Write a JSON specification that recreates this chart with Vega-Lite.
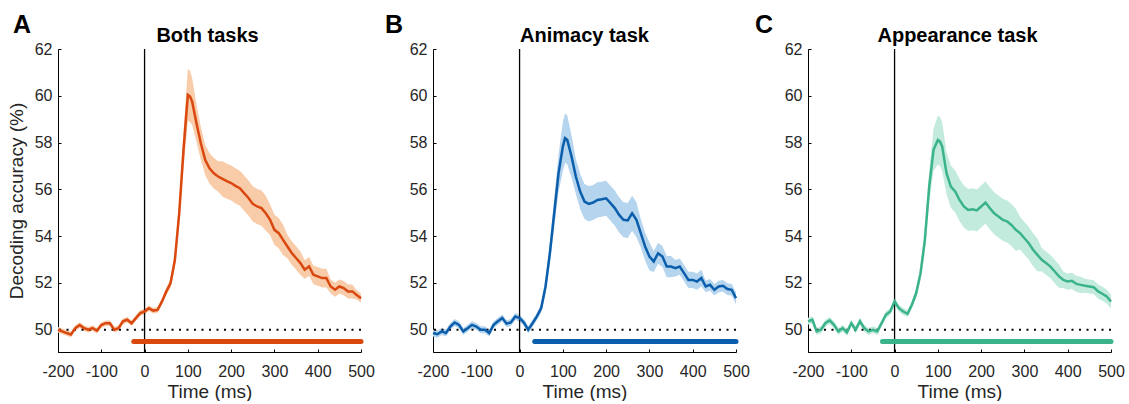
{
"$schema":"https://vega.github.io/schema/vega-lite/v6.json",
"padding":{"left":7,"top":13,"right":5,"bottom":0},
"bounds":"flush",
"spacing":72,
"config":{"font":"Liberation Sans","view":{"stroke":null},
 "axis":{"grid":false,"domainColor":"#000","domainWidth":1,"tickColor":"#000","tickSize":-3,"labelFontSize":16,"labelColor":"#262626","labelFont":"Liberation Sans","titleFont":"Liberation Sans","titleFontSize":19,"titleFontWeight":"normal","titleColor":"#262626","labelFlush":false,"labelExpr":"replace(datum.label, '\u2212', '-')"}},
"datasets":{
"curves":[
{"k":"A","t":-200,"m":50.00,"lo":49.88,"hi":50.12},
{"k":"A","t":-190,"m":49.93,"lo":49.81,"hi":50.05},
{"k":"A","t":-180,"m":49.86,"lo":49.74,"hi":49.98},
{"k":"A","t":-170,"m":49.80,"lo":49.68,"hi":49.92},
{"k":"A","t":-160,"m":50.07,"lo":49.95,"hi":50.19},
{"k":"A","t":-150,"m":50.20,"lo":50.08,"hi":50.32},
{"k":"A","t":-140,"m":50.07,"lo":49.95,"hi":50.19},
{"k":"A","t":-130,"m":50.00,"lo":49.88,"hi":50.12},
{"k":"A","t":-120,"m":50.07,"lo":49.95,"hi":50.19},
{"k":"A","t":-110,"m":49.96,"lo":49.84,"hi":50.08},
{"k":"A","t":-100,"m":50.20,"lo":50.08,"hi":50.32},
{"k":"A","t":-90,"m":50.28,"lo":50.16,"hi":50.40},
{"k":"A","t":-80,"m":50.28,"lo":50.16,"hi":50.40},
{"k":"A","t":-70,"m":50.00,"lo":49.88,"hi":50.12},
{"k":"A","t":-60,"m":50.07,"lo":49.95,"hi":50.19},
{"k":"A","t":-50,"m":50.36,"lo":50.24,"hi":50.48},
{"k":"A","t":-40,"m":50.43,"lo":50.31,"hi":50.55},
{"k":"A","t":-30,"m":50.28,"lo":50.16,"hi":50.40},
{"k":"A","t":-20,"m":50.50,"lo":50.38,"hi":50.62},
{"k":"A","t":-10,"m":50.71,"lo":50.59,"hi":50.83},
{"k":"A","t":0,"m":50.78,"lo":50.66,"hi":50.90},
{"k":"A","t":10,"m":50.92,"lo":50.80,"hi":51.04},
{"k":"A","t":20,"m":50.82,"lo":50.70,"hi":50.94},
{"k":"A","t":30,"m":50.85,"lo":50.73,"hi":50.97},
{"k":"A","t":40,"m":51.20,"lo":51.08,"hi":51.32},
{"k":"A","t":50,"m":51.63,"lo":51.48,"hi":51.78},
{"k":"A","t":60,"m":51.99,"lo":51.79,"hi":52.19},
{"k":"A","t":70,"m":52.98,"lo":52.68,"hi":53.28},
{"k":"A","t":80,"m":54.98,"lo":54.48,"hi":55.48},
{"k":"A","t":90,"m":57.70,"lo":56.90,"hi":58.50},
{"k":"A","t":100,"m":60.04,"lo":58.94,"hi":61.14},
{"k":"A","t":105,"m":59.97,"lo":58.87,"hi":61.07},
{"k":"A","t":110,"m":59.75,"lo":58.75,"hi":60.75},
{"k":"A","t":120,"m":58.82,"lo":58.02,"hi":59.62},
{"k":"A","t":130,"m":57.97,"lo":57.27,"hi":58.67},
{"k":"A","t":140,"m":57.26,"lo":56.61,"hi":57.91},
{"k":"A","t":150,"m":56.90,"lo":56.25,"hi":57.55},
{"k":"A","t":160,"m":56.69,"lo":56.04,"hi":57.34},
{"k":"A","t":170,"m":56.55,"lo":55.90,"hi":57.20},
{"k":"A","t":180,"m":56.45,"lo":55.70,"hi":57.20},
{"k":"A","t":190,"m":56.35,"lo":55.60,"hi":57.10},
{"k":"A","t":200,"m":56.27,"lo":55.52,"hi":57.02},
{"k":"A","t":210,"m":56.15,"lo":55.40,"hi":56.90},
{"k":"A","t":220,"m":56.05,"lo":55.30,"hi":56.80},
{"k":"A","t":230,"m":55.84,"lo":55.09,"hi":56.59},
{"k":"A","t":240,"m":55.63,"lo":54.88,"hi":56.38},
{"k":"A","t":250,"m":55.38,"lo":54.63,"hi":56.13},
{"k":"A","t":260,"m":55.27,"lo":54.52,"hi":56.02},
{"k":"A","t":270,"m":55.20,"lo":54.45,"hi":55.95},
{"k":"A","t":280,"m":54.98,"lo":54.23,"hi":55.73},
{"k":"A","t":290,"m":54.70,"lo":54.05,"hi":55.35},
{"k":"A","t":300,"m":54.27,"lo":53.62,"hi":54.92},
{"k":"A","t":310,"m":54.13,"lo":53.48,"hi":54.78},
{"k":"A","t":320,"m":53.84,"lo":53.19,"hi":54.49},
{"k":"A","t":330,"m":53.56,"lo":53.06,"hi":54.06},
{"k":"A","t":340,"m":53.28,"lo":52.78,"hi":53.78},
{"k":"A","t":350,"m":53.07,"lo":52.57,"hi":53.57},
{"k":"A","t":360,"m":52.85,"lo":52.35,"hi":53.35},
{"k":"A","t":370,"m":52.57,"lo":52.17,"hi":52.97},
{"k":"A","t":380,"m":52.71,"lo":52.31,"hi":53.11},
{"k":"A","t":390,"m":52.35,"lo":51.95,"hi":52.75},
{"k":"A","t":400,"m":52.28,"lo":51.88,"hi":52.68},
{"k":"A","t":410,"m":52.21,"lo":51.81,"hi":52.61},
{"k":"A","t":420,"m":52.21,"lo":51.81,"hi":52.61},
{"k":"A","t":430,"m":51.85,"lo":51.55,"hi":52.15},
{"k":"A","t":440,"m":51.71,"lo":51.41,"hi":52.01},
{"k":"A","t":450,"m":51.85,"lo":51.55,"hi":52.15},
{"k":"A","t":460,"m":51.78,"lo":51.48,"hi":52.08},
{"k":"A","t":470,"m":51.64,"lo":51.34,"hi":51.94},
{"k":"A","t":480,"m":51.64,"lo":51.34,"hi":51.94},
{"k":"A","t":490,"m":51.49,"lo":51.29,"hi":51.69},
{"k":"A","t":500,"m":51.35,"lo":51.15,"hi":51.55},
{"k":"B","t":-200,"m":49.86,"lo":49.71,"hi":50.01},
{"k":"B","t":-190,"m":49.81,"lo":49.66,"hi":49.96},
{"k":"B","t":-180,"m":49.93,"lo":49.78,"hi":50.08},
{"k":"B","t":-170,"m":49.86,"lo":49.71,"hi":50.01},
{"k":"B","t":-160,"m":50.14,"lo":49.99,"hi":50.29},
{"k":"B","t":-150,"m":50.31,"lo":50.16,"hi":50.46},
{"k":"B","t":-140,"m":50.21,"lo":50.06,"hi":50.36},
{"k":"B","t":-130,"m":49.93,"lo":49.78,"hi":50.08},
{"k":"B","t":-120,"m":50.07,"lo":49.92,"hi":50.22},
{"k":"B","t":-110,"m":50.21,"lo":50.06,"hi":50.36},
{"k":"B","t":-100,"m":50.14,"lo":49.99,"hi":50.29},
{"k":"B","t":-90,"m":50.00,"lo":49.85,"hi":50.15},
{"k":"B","t":-80,"m":50.00,"lo":49.85,"hi":50.15},
{"k":"B","t":-70,"m":49.86,"lo":49.71,"hi":50.01},
{"k":"B","t":-60,"m":50.21,"lo":50.06,"hi":50.36},
{"k":"B","t":-50,"m":50.36,"lo":50.21,"hi":50.51},
{"k":"B","t":-40,"m":50.50,"lo":50.35,"hi":50.65},
{"k":"B","t":-30,"m":50.26,"lo":50.11,"hi":50.41},
{"k":"B","t":-20,"m":50.31,"lo":50.16,"hi":50.46},
{"k":"B","t":-10,"m":50.57,"lo":50.42,"hi":50.72},
{"k":"B","t":0,"m":50.50,"lo":50.35,"hi":50.65},
{"k":"B","t":10,"m":50.31,"lo":50.16,"hi":50.46},
{"k":"B","t":20,"m":50.00,"lo":49.85,"hi":50.15},
{"k":"B","t":30,"m":50.28,"lo":50.13,"hi":50.43},
{"k":"B","t":40,"m":50.57,"lo":50.42,"hi":50.72},
{"k":"B","t":50,"m":50.93,"lo":50.73,"hi":51.13},
{"k":"B","t":60,"m":51.85,"lo":51.55,"hi":52.15},
{"k":"B","t":70,"m":53.27,"lo":52.82,"hi":53.72},
{"k":"B","t":80,"m":54.98,"lo":54.38,"hi":55.58},
{"k":"B","t":90,"m":56.69,"lo":55.89,"hi":57.49},
{"k":"B","t":100,"m":57.83,"lo":56.78,"hi":58.88},
{"k":"B","t":105,"m":58.19,"lo":57.14,"hi":59.24},
{"k":"B","t":110,"m":58.12,"lo":57.07,"hi":59.17},
{"k":"B","t":120,"m":57.41,"lo":56.51,"hi":58.31},
{"k":"B","t":130,"m":56.55,"lo":55.80,"hi":57.30},
{"k":"B","t":140,"m":55.91,"lo":55.16,"hi":56.66},
{"k":"B","t":150,"m":55.48,"lo":54.73,"hi":56.23},
{"k":"B","t":160,"m":55.38,"lo":54.63,"hi":56.13},
{"k":"B","t":170,"m":55.44,"lo":54.69,"hi":56.19},
{"k":"B","t":180,"m":55.55,"lo":54.80,"hi":56.30},
{"k":"B","t":190,"m":55.58,"lo":54.83,"hi":56.33},
{"k":"B","t":200,"m":55.62,"lo":54.87,"hi":56.37},
{"k":"B","t":210,"m":55.41,"lo":54.66,"hi":56.16},
{"k":"B","t":220,"m":55.20,"lo":54.45,"hi":55.95},
{"k":"B","t":230,"m":54.91,"lo":54.16,"hi":55.66},
{"k":"B","t":240,"m":54.70,"lo":53.95,"hi":55.45},
{"k":"B","t":250,"m":54.67,"lo":53.92,"hi":55.42},
{"k":"B","t":260,"m":54.98,"lo":54.23,"hi":55.73},
{"k":"B","t":270,"m":54.70,"lo":53.95,"hi":55.45},
{"k":"B","t":280,"m":54.13,"lo":53.53,"hi":54.73},
{"k":"B","t":290,"m":53.56,"lo":52.96,"hi":54.16},
{"k":"B","t":300,"m":53.13,"lo":52.53,"hi":53.73},
{"k":"B","t":310,"m":52.92,"lo":52.47,"hi":53.37},
{"k":"B","t":320,"m":53.27,"lo":52.82,"hi":53.72},
{"k":"B","t":330,"m":53.13,"lo":52.68,"hi":53.58},
{"k":"B","t":340,"m":52.70,"lo":52.25,"hi":53.15},
{"k":"B","t":350,"m":52.70,"lo":52.25,"hi":53.15},
{"k":"B","t":360,"m":52.63,"lo":52.28,"hi":52.98},
{"k":"B","t":370,"m":52.70,"lo":52.35,"hi":53.05},
{"k":"B","t":380,"m":52.42,"lo":52.07,"hi":52.77},
{"k":"B","t":390,"m":52.13,"lo":51.78,"hi":52.48},
{"k":"B","t":400,"m":52.13,"lo":51.78,"hi":52.48},
{"k":"B","t":410,"m":52.06,"lo":51.71,"hi":52.41},
{"k":"B","t":420,"m":52.21,"lo":51.86,"hi":52.56},
{"k":"B","t":430,"m":51.85,"lo":51.60,"hi":52.10},
{"k":"B","t":440,"m":51.92,"lo":51.67,"hi":52.17},
{"k":"B","t":450,"m":51.71,"lo":51.46,"hi":51.96},
{"k":"B","t":460,"m":51.85,"lo":51.60,"hi":52.10},
{"k":"B","t":470,"m":51.88,"lo":51.63,"hi":52.13},
{"k":"B","t":480,"m":51.74,"lo":51.49,"hi":51.99},
{"k":"B","t":490,"m":51.71,"lo":51.46,"hi":51.96},
{"k":"B","t":500,"m":51.35,"lo":51.10,"hi":51.60},
{"k":"C","t":-200,"m":50.36,"lo":50.21,"hi":50.51},
{"k":"C","t":-190,"m":50.43,"lo":50.28,"hi":50.58},
{"k":"C","t":-180,"m":49.93,"lo":49.78,"hi":50.08},
{"k":"C","t":-170,"m":50.00,"lo":49.85,"hi":50.15},
{"k":"C","t":-160,"m":50.28,"lo":50.13,"hi":50.43},
{"k":"C","t":-150,"m":50.40,"lo":50.25,"hi":50.55},
{"k":"C","t":-140,"m":50.21,"lo":50.06,"hi":50.36},
{"k":"C","t":-130,"m":49.93,"lo":49.78,"hi":50.08},
{"k":"C","t":-120,"m":50.07,"lo":49.92,"hi":50.22},
{"k":"C","t":-110,"m":49.89,"lo":49.74,"hi":50.04},
{"k":"C","t":-100,"m":50.28,"lo":50.13,"hi":50.43},
{"k":"C","t":-90,"m":50.00,"lo":49.85,"hi":50.15},
{"k":"C","t":-80,"m":50.36,"lo":50.21,"hi":50.51},
{"k":"C","t":-70,"m":50.07,"lo":49.92,"hi":50.22},
{"k":"C","t":-60,"m":49.93,"lo":49.78,"hi":50.08},
{"k":"C","t":-50,"m":50.00,"lo":49.85,"hi":50.15},
{"k":"C","t":-40,"m":49.93,"lo":49.78,"hi":50.08},
{"k":"C","t":-30,"m":50.28,"lo":50.13,"hi":50.43},
{"k":"C","t":-20,"m":50.64,"lo":50.49,"hi":50.79},
{"k":"C","t":-10,"m":50.78,"lo":50.63,"hi":50.93},
{"k":"C","t":0,"m":51.21,"lo":51.06,"hi":51.36},
{"k":"C","t":10,"m":50.92,"lo":50.77,"hi":51.07},
{"k":"C","t":20,"m":50.78,"lo":50.63,"hi":50.93},
{"k":"C","t":30,"m":50.68,"lo":50.53,"hi":50.83},
{"k":"C","t":40,"m":51.07,"lo":50.92,"hi":51.22},
{"k":"C","t":50,"m":51.57,"lo":51.37,"hi":51.77},
{"k":"C","t":60,"m":52.42,"lo":52.12,"hi":52.72},
{"k":"C","t":70,"m":53.84,"lo":53.34,"hi":54.34},
{"k":"C","t":80,"m":56.12,"lo":55.42,"hi":56.82},
{"k":"C","t":90,"m":57.69,"lo":56.79,"hi":58.59},
{"k":"C","t":100,"m":58.11,"lo":57.06,"hi":59.16},
{"k":"C","t":105,"m":58.04,"lo":56.99,"hi":59.09},
{"k":"C","t":110,"m":57.83,"lo":56.78,"hi":58.88},
{"k":"C","t":120,"m":56.69,"lo":55.79,"hi":57.59},
{"k":"C","t":130,"m":56.12,"lo":55.22,"hi":57.02},
{"k":"C","t":140,"m":55.91,"lo":55.01,"hi":56.81},
{"k":"C","t":150,"m":55.55,"lo":54.65,"hi":56.45},
{"k":"C","t":160,"m":55.27,"lo":54.37,"hi":56.17},
{"k":"C","t":170,"m":55.12,"lo":54.22,"hi":56.02},
{"k":"C","t":180,"m":55.15,"lo":54.25,"hi":56.05},
{"k":"C","t":190,"m":55.10,"lo":54.20,"hi":56.00},
{"k":"C","t":200,"m":55.27,"lo":54.37,"hi":56.17},
{"k":"C","t":210,"m":55.44,"lo":54.54,"hi":56.34},
{"k":"C","t":220,"m":55.20,"lo":54.30,"hi":56.10},
{"k":"C","t":230,"m":54.98,"lo":54.08,"hi":55.88},
{"k":"C","t":240,"m":54.84,"lo":53.94,"hi":55.74},
{"k":"C","t":250,"m":54.70,"lo":53.80,"hi":55.60},
{"k":"C","t":260,"m":54.63,"lo":53.73,"hi":55.53},
{"k":"C","t":270,"m":54.48,"lo":53.58,"hi":55.38},
{"k":"C","t":280,"m":54.27,"lo":53.37,"hi":55.17},
{"k":"C","t":290,"m":54.13,"lo":53.43,"hi":54.83},
{"k":"C","t":300,"m":53.91,"lo":53.21,"hi":54.61},
{"k":"C","t":310,"m":53.70,"lo":53.00,"hi":54.40},
{"k":"C","t":320,"m":53.42,"lo":52.72,"hi":54.12},
{"k":"C","t":330,"m":53.20,"lo":52.50,"hi":53.90},
{"k":"C","t":340,"m":52.99,"lo":52.49,"hi":53.49},
{"k":"C","t":350,"m":52.85,"lo":52.35,"hi":53.35},
{"k":"C","t":360,"m":52.70,"lo":52.20,"hi":53.20},
{"k":"C","t":370,"m":52.49,"lo":51.99,"hi":52.99},
{"k":"C","t":380,"m":52.28,"lo":51.78,"hi":52.78},
{"k":"C","t":390,"m":52.13,"lo":51.78,"hi":52.48},
{"k":"C","t":400,"m":52.06,"lo":51.71,"hi":52.41},
{"k":"C","t":410,"m":52.09,"lo":51.74,"hi":52.44},
{"k":"C","t":420,"m":51.96,"lo":51.61,"hi":52.31},
{"k":"C","t":430,"m":51.92,"lo":51.57,"hi":52.27},
{"k":"C","t":440,"m":51.88,"lo":51.58,"hi":52.18},
{"k":"C","t":450,"m":51.85,"lo":51.55,"hi":52.15},
{"k":"C","t":460,"m":51.82,"lo":51.52,"hi":52.12},
{"k":"C","t":470,"m":51.64,"lo":51.34,"hi":51.94},
{"k":"C","t":480,"m":51.54,"lo":51.24,"hi":51.84},
{"k":"C","t":490,"m":51.42,"lo":51.12,"hi":51.72},
{"k":"C","t":500,"m":51.21,"lo":50.91,"hi":51.51}
],
"sig":[{"k":"A","s":-25,"e":500},{"k":"B","s":35,"e":500},{"k":"C","s":-28,"e":500}],
"one":[{"u":1}]
},
"hconcat":[
{"width":303,"height":303,
 "layer":[
  {"data":{"name":"curves"},"transform":[{"filter":"datum.k==='A'"}],"mark":{"type":"area","color":"#F8CBA9","opacity":1},
   "encoding":{"x":{"field":"t","type":"quantitative","scale":{"domain":[-200,500],"nice":false},"axis":{"values":[-200,-100,0,100,200,300,400,500],"title":"Time (ms)","labelPadding":14,"titlePadding":3}},
    "y":{"field":"lo","type":"quantitative","scale":{"domain":[49.05,62],"nice":false,"zero":false},"axis":{"values":[50,52,54,56,58,60,62],"title":"Decoding accuracy (%)","labelPadding":9,"titlePadding":8}},"y2":{"field":"hi"}}},
  {"data":{"name":"one"},"mark":{"type":"rule","color":"#000","strokeWidth":2,"strokeDash":[2,5.5]},"encoding":{"y":{"datum":50}}},
  {"data":{"name":"one"},"mark":{"type":"rule","color":"#000","strokeWidth":1.3},"encoding":{"x":{"datum":0}}},
  {"data":{"name":"curves"},"transform":[{"filter":"datum.k==='A'"}],"mark":{"type":"line","color":"#D9480F","strokeWidth":2.5},
   "encoding":{"x":{"field":"t","type":"quantitative"},"y":{"field":"m","type":"quantitative"}}},
  {"data":{"name":"sig"},"transform":[{"filter":"datum.k==='A'"}],"mark":{"type":"rule","color":"#D9480F","strokeWidth":5,"strokeCap":"round"},
   "encoding":{"x":{"field":"s","type":"quantitative"},"x2":{"field":"e"},"y":{"datum":49.5}}},
  {"data":{"name":"one"},"mark":{"type":"text","text":"A","fontSize":25,"fontWeight":"bold","dx":-36,"dy":-16,"align":"center","baseline":"alphabetic","color":"#000","clip":false},
   "encoding":{"x":{"datum":-200},"y":{"datum":62}}},
  {"data":{"name":"one"},"mark":{"type":"text","text":"Both tasks","fontSize":20,"fontWeight":"bold","dx":-2,"dy":-7,"align":"center","baseline":"alphabetic","color":"#000","clip":false},
   "encoding":{"x":{"datum":150},"y":{"datum":62}}}
 ]},
{"width":303,"height":303,
 "layer":[
  {"data":{"name":"curves"},"transform":[{"filter":"datum.k==='B'"}],"mark":{"type":"area","color":"#B5D4EE","opacity":1},
   "encoding":{"x":{"field":"t","type":"quantitative","scale":{"domain":[-200,500],"nice":false},"axis":{"values":[-200,-100,0,100,200,300,400,500],"title":"Time (ms)","labelPadding":14,"titlePadding":3}},
    "y":{"field":"lo","type":"quantitative","scale":{"domain":[49.05,62],"nice":false,"zero":false},"axis":{"values":[50,52,54,56,58,60,62],"title":null,"labelPadding":9}},"y2":{"field":"hi"}}},
  {"data":{"name":"one"},"mark":{"type":"rule","color":"#000","strokeWidth":2,"strokeDash":[2,5.5]},"encoding":{"y":{"datum":50}}},
  {"data":{"name":"one"},"mark":{"type":"rule","color":"#000","strokeWidth":1.3},"encoding":{"x":{"datum":0}}},
  {"data":{"name":"curves"},"transform":[{"filter":"datum.k==='B'"}],"mark":{"type":"line","color":"#0B5EAB","strokeWidth":2.5},
   "encoding":{"x":{"field":"t","type":"quantitative"},"y":{"field":"m","type":"quantitative"}}},
  {"data":{"name":"sig"},"transform":[{"filter":"datum.k==='B'"}],"mark":{"type":"rule","color":"#0B5EAB","strokeWidth":5,"strokeCap":"round"},
   "encoding":{"x":{"field":"s","type":"quantitative"},"x2":{"field":"e"},"y":{"datum":49.5}}},
  {"data":{"name":"one"},"mark":{"type":"text","text":"B","fontSize":25,"fontWeight":"bold","dx":-39,"dy":-16,"align":"center","baseline":"alphabetic","color":"#000","clip":false},
   "encoding":{"x":{"datum":-200},"y":{"datum":62}}},
  {"data":{"name":"one"},"mark":{"type":"text","text":"Animacy task","fontSize":20,"fontWeight":"bold","dx":0,"dy":-7,"align":"center","baseline":"alphabetic","color":"#000","clip":false},
   "encoding":{"x":{"datum":150},"y":{"datum":62}}}
 ]},
{"width":303,"height":303,
 "layer":[
  {"data":{"name":"curves"},"transform":[{"filter":"datum.k==='C'"}],"mark":{"type":"area","color":"#C3EBDD","opacity":1},
   "encoding":{"x":{"field":"t","type":"quantitative","scale":{"domain":[-200,500],"nice":false},"axis":{"values":[-200,-100,0,100,200,300,400,500],"title":"Time (ms)","labelPadding":14,"titlePadding":3}},
    "y":{"field":"lo","type":"quantitative","scale":{"domain":[49.05,62],"nice":false,"zero":false},"axis":{"values":[50,52,54,56,58,60,62],"title":null,"labelPadding":9}},"y2":{"field":"hi"}}},
  {"data":{"name":"one"},"mark":{"type":"rule","color":"#000","strokeWidth":2,"strokeDash":[2,5.5]},"encoding":{"y":{"datum":50}}},
  {"data":{"name":"one"},"mark":{"type":"rule","color":"#000","strokeWidth":1.3},"encoding":{"x":{"datum":0}}},
  {"data":{"name":"curves"},"transform":[{"filter":"datum.k==='C'"}],"mark":{"type":"line","color":"#3BB38A","strokeWidth":2.5},
   "encoding":{"x":{"field":"t","type":"quantitative"},"y":{"field":"m","type":"quantitative"}}},
  {"data":{"name":"sig"},"transform":[{"filter":"datum.k==='C'"}],"mark":{"type":"rule","color":"#3BB38A","strokeWidth":5,"strokeCap":"round"},
   "encoding":{"x":{"field":"s","type":"quantitative"},"x2":{"field":"e"},"y":{"datum":49.5}}},
  {"data":{"name":"one"},"mark":{"type":"text","text":"C","fontSize":25,"fontWeight":"bold","dx":-44,"dy":-16,"align":"center","baseline":"alphabetic","color":"#000","clip":false},
   "encoding":{"x":{"datum":-200},"y":{"datum":62}}},
  {"data":{"name":"one"},"mark":{"type":"text","text":"Appearance task","fontSize":20,"fontWeight":"bold","dx":-2,"dy":-7,"align":"center","baseline":"alphabetic","color":"#000","clip":false},
   "encoding":{"x":{"datum":150},"y":{"datum":62}}}
 ]}
]
}
